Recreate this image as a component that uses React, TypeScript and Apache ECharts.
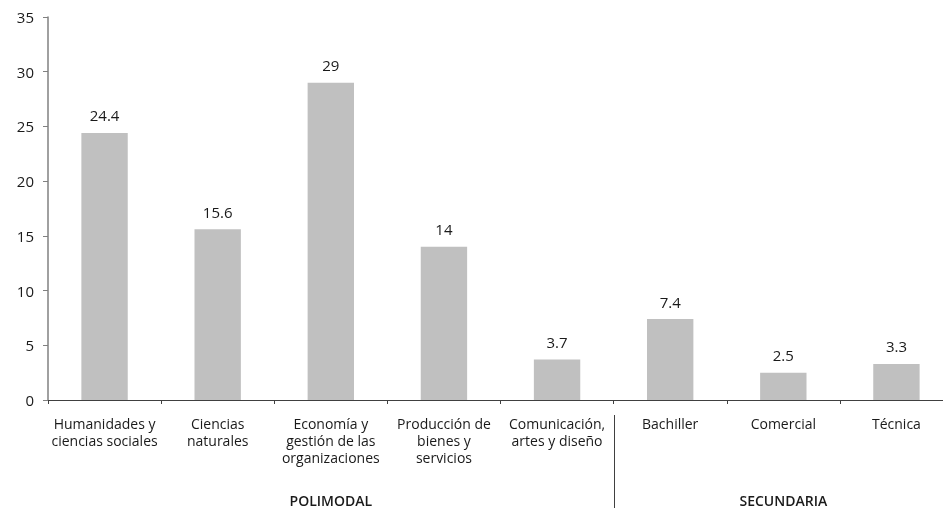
import React, { useEffect, useRef } from "react";
import * as echarts from "echarts";

const categories = [
  "Humanidades y\nciencias sociales",
  "Ciencias\nnaturales",
  "Economía y\ngestión de las\norganizaciones",
  "Producción de\nbienes y\nservicios",
  "Comunicación,\nartes y diseño",
  "Bachiller",
  "Comercial",
  "Técnica",
];
const values = [24.4, 15.6, 29, 14, 3.7, 7.4, 2.5, 3.3];
const groups = ["POLIMODAL", "SECUNDARIA"];
const groupRanges = [
  [0, 4],
  [5, 7],
];
const yTicks = { min: 0, max: 35, interval: 5 };

const FONT = "'Open Sans', 'Noto Sans', sans-serif";

export default function App() {
  const ref = useRef<HTMLDivElement>(null);
  useEffect(() => {
    if (!ref.current) return;
    const chart = echarts.init(ref.current, undefined, { renderer: "svg" });
    const option: any = {
      animation: false,
      grid: {
        left: 48,
        top: 17,
        width: 905,
        height: 383,
        containLabel: false,
        outerBoundsMode: "none",
      },
      xAxis: {
        type: "category",
        data: categories,
        axisLine: { lineStyle: { color: "#404040", width: 1 } },
        axisTick: { show: true, length: 4, alignWithLabel: false, lineStyle: { color: "#404040" } },
        axisLabel: {
          interval: 0,
          color: "#1a1a1a",
          fontFamily: FONT,
          fontSize: 14,
          lineHeight: 17,
          margin: 15,
        },
      },
      yAxis: {
        type: "value",
        min: yTicks.min,
        max: yTicks.max,
        interval: yTicks.interval,
        splitLine: { show: false },
        axisLine: { show: true, lineStyle: { color: "#808080", width: 1.5 } },
        axisTick: { show: true, length: 5, lineStyle: { color: "#808080" } },
        axisLabel: { color: "#1a1a1a", fontFamily: FONT, fontSize: 15, margin: 14 },
      },
      series: [
        {
          type: "bar",
          data: values,
          barWidth: "41%",
          itemStyle: { color: "#c0c0c0" },
          label: {
            show: true,
            position: "top",
            distance: 10,
            color: "#1a1a1a",
            fontFamily: FONT,
            fontSize: 15,
          },
        },
      ],
    };
    chart.setOption(option);

    const cx = (i: number) => chart.convertToPixel({ xAxisIndex: 0 }, i) as number;
    const half = (cx(1) - cx(0)) / 2;
    const sepX = Math.round(cx(4) + half) + 0.5;
    const graphics: any[] = [
      {
        type: "line",
        shape: { x1: sepX, y1: 415, x2: sepX, y2: 508 },
        style: { stroke: "#404040", lineWidth: 1 },
      },
    ];
    groups.forEach((g, k) => {
      const [a, b] = groupRanges[k];
      const center = (cx(a) - half + cx(b) + half) / 2;
      graphics.push({
        type: "text",
        x: center,
        y: 500,
        style: {
          text: g,
          fill: "#1a1a1a",
          font: `600 14px ${FONT}`,
          align: "center",
          verticalAlign: "middle",
        },
      });
    });
    chart.setOption({ graphic: graphics });
    return () => chart.dispose();
  }, []);
  return (
    <div
      ref={ref}
      style={{ position: "fixed", left: 0, top: 0, width: 943, height: 508 }}
    />
  );
}
